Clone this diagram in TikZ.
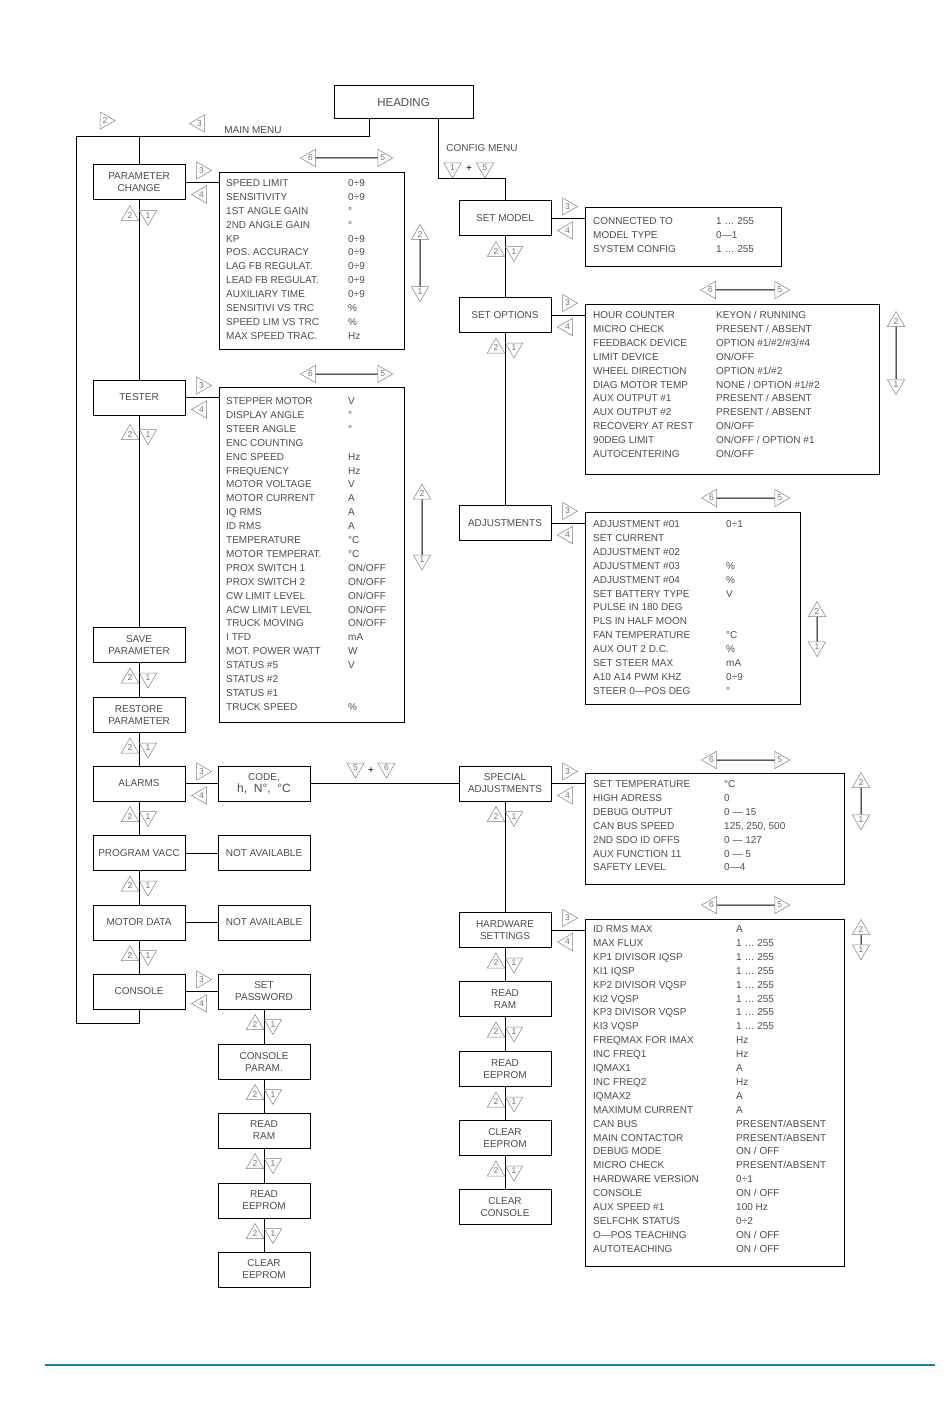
\documentclass[tikz,border=0pt]{standalone}
\usepackage{fontspec}
\setmainfont{Liberation Sans}
\usepackage{tikz}
\usetikzlibrary{shapes.geometric,positioning,calc}

\definecolor{rulecol}{RGB}{18,132,168}
\newcommand\rowfont{\fontsize{10}{12}\selectfont}
\newcommand\keyfont{\fontsize{8.5}{8.5}\selectfont}

\tikzset{
  menubox/.style={draw, line width=1pt, minimum width=92pt, minimum height=35pt,
    inner sep=1pt, align=center, font=\rowfont, text=black!70},
  listbox/.style={draw, line width=1pt, anchor=north west, inner sep=0pt},
  rowtext/.style={anchor=west, inner sep=0pt, text height=7pt, text depth=0pt,
    font=\rowfont, text=black!70},
  key/.style={regular polygon, regular polygon sides=3, draw=black!50, line width=0.5pt,
    minimum size=20pt, inner sep=0pt, font=\keyfont, text=black!55},
  keyup/.style={key},
  keydown/.style={key, shape border rotate=180},
  keyleft/.style={key, shape border rotate=90},
  keyright/.style={key, shape border rotate=-90},
  wire/.style={line width=1pt},
}

\begin{document}
\begin{tikzpicture}[x=1pt, y=-1pt]
  \useasboundingbox (0,0) rectangle (950,1420);
  % Heading
  \node[menubox, minimum width=139pt, minimum height=33pt,
    font=\fontsize{11.5}{13}\selectfont] (heading) at (403.5,102.5) {HEADING};

  % Main menu column
  \node[menubox] (param)   at (139,182.5) {PARAMETER\\CHANGE};
  \node[menubox] (tester)  at (139,397.5) {TESTER};
  \node[menubox] (save)    at (139,645)   {SAVE\\PARAMETER};
  \node[menubox] (restore) at (139,715)   {RESTORE\\PARAMETER};
  \node[menubox] (alarms)  at (139,783.5) {ALARMS};
  \node[menubox] (program) at (139,853)   {PROGRAM VACC};
  \node[menubox] (motor)   at (139,922.5) {MOTOR DATA};
  \node[menubox] (console) at (139,991.5) {CONSOLE};

  % Second column
  \node[menubox] (code)     at (264,783.5)  {CODE,\\{\fontsize{12}{14}\selectfont h,\ \ N°,\ \ °C}};
  \node[menubox] (naone)    at (264,853)    {NOT AVAILABLE};
  \node[menubox] (natwo)    at (264,922.5)  {NOT AVAILABLE};
  \node[menubox] (setpw)    at (264,991.5)  {SET\\PASSWORD};
  \node[menubox] (conparam) at (264,1061.5) {CONSOLE\\PARAM.};
  \node[menubox] (readram)  at (264,1130.5) {READ\\RAM};
  \node[menubox] (readee)   at (264,1200.5) {READ\\EEPROM};
  \node[menubox] (clearee)  at (264,1269.5) {CLEAR\\EEPROM};

  % Config menu column
  \node[menubox] (setmodel)   at (505,218.5) {SET MODEL};
  \node[menubox] (setoptions) at (505,315)   {SET OPTIONS};
  \node[menubox] (adjust)     at (505,523)   {ADJUSTMENTS};
  \node[menubox] (special)    at (505,783.5) {SPECIAL\\ADJUSTMENTS};
  \node[menubox] (hardware)   at (505,930)   {HARDWARE\\SETTINGS};
  \node[menubox] (ramtwo)     at (505,999)   {READ\\RAM};
  \node[menubox] (eetwo)      at (505,1069)  {READ\\EEPROM};
  \node[menubox] (cleartwo)   at (505,1138)  {CLEAR\\EEPROM};
  \node[menubox] (clearcons)  at (505,1207)  {CLEAR\\CONSOLE};

  % Menu wiring
  \coordinate (mainL) at (76,137);
  \coordinate (mainB) at (139,1023);
  \coordinate (cfgK) at (438,179);
  \draw[wire] ([xshift=-34.5pt]heading.south) |- (mainL) |- (mainB) -- (console.south);
  \draw[wire] (param.north) -- (param.north |- mainL);
  \draw[wire] ([xshift=34.5pt]heading.south) -- (cfgK) -| (setmodel.north);
  \foreach \a/\b in {param/tester, tester/save, save/restore, restore/alarms,
      alarms/program, program/motor, motor/console,
      setpw/conparam, conparam/readram, readram/readee, readee/clearee,
      setmodel/setoptions, setoptions/adjust, special/hardware, hardware/ramtwo,
      ramtwo/eetwo, eetwo/cleartwo, cleartwo/clearcons}
    \draw[wire] (\a.south) -- (\b.north);
  \draw[wire] (alarms.east) -- (code.west);
  \draw[wire] (program.east) -- (naone.west);
  \draw[wire] (motor.east) -- (natwo.west);
  \draw[wire] (console.east) -- (setpw.west);
  \draw[wire] (code.east) -- (special.west);

  % Key icons
  \node[keyright] (mm2) at (105,120.5) {2};
  \node[keyleft]  (mm3) at (199.5,123.5) {3};
  \node[font=\rowfont, text=black!70] (mmtext) at (253,130) {MAIN MENU};
  \node[font=\rowfont, text=black!70] (cfgtext) at (482,148) {CONFIG MENU};
  \node[keydown] (cfg1) at (452.5,168) {1};
  \node[font=\rowfont] (cfgplus) at (469,169) {+};
  \node[keydown] (cfg5) at (485,168) {5};
  \node[keydown] (sp5) at (355.5,768) {5};
  \node[font=\rowfont] (spplus) at (371,771) {+};
  \node[keydown] (sp6) at (386.5,768) {6};
  \foreach \b in {param, save, restore, alarms, program, motor,
      setpw, conparam, readram, readee,
      setmodel, setoptions, special, hardware, ramtwo, eetwo, cleartwo}{
    \node[keyup]   (\b-up)   at ([xshift=-9pt,yshift=-15pt]\b.south) {2};
    \node[keydown] (\b-down) at ([xshift=9pt,yshift=-15pt]\b.south) {1};
  }
  \node[keyup]   (tester-up)   at ([xshift=-9pt,yshift=-19pt]tester.south) {2};
  \node[keydown] (tester-down) at ([xshift=9pt,yshift=-19pt]tester.south) {1};
  \foreach \b in {param, tester, alarms, console,
      setmodel, setoptions, adjust, special, hardware}{
    \node[keyright] (\b-in)  at ([xshift=16pt,yshift=12pt]\b.east) {3};
    \node[keyleft]  (\b-out) at ([xshift=16pt,yshift=-12pt]\b.east) {4};
  }

  % Parameter change list
  \node[listbox, minimum width=185pt, minimum height=177pt] (parlist) at (219,172) {};
  \draw[wire] (param.east) -- (param.east -| parlist.west);
  \foreach \lab/\val [count=\i from 0] in {
    {SPEED LIMIT}/{0÷9}, {SENSITIVITY}/{0÷9}, {1ST ANGLE GAIN}/{°},
    {2ND ANGLE GAIN}/{°}, {KP}/{0÷9}, {POS. ACCURACY}/{0÷9},
    {LAG FB REGULAT.}/{0÷9}, {LEAD FB REGULAT.}/{0÷9}, {AUXILIARY TIME}/{0÷9},
    {SENSITIVI VS TRC}/{\%}, {SPEED LIM VS TRC}/{\%}, {MAX SPEED TRAC.}/{Hz}}{
    \node[rowtext] (par-l\i) at (226,{183+13.9*\i}) {\lab};
    \node[rowtext] (par-v\i) at (348,{183+13.9*\i}) {\val};
  }
  \node[keyleft]  (par6) at (310.5,158) {6};
  \node[keyright] (par5) at (382.75,158) {5};
  \draw[wire] (par6) -- (par5);
  \node[keyup]    (par2) at (420,234.5) {2};
  \node[keydown]  (par1) at (420,291.75) {1};
  \draw[wire] (par2) -- (par1);

  % Tester list
  \node[listbox, minimum width=185pt, minimum height=335pt] (testlist) at (219,387) {};
  \draw[wire] (tester.east) -- (tester.east -| testlist.west);
  \foreach \lab/\val [count=\i from 0] in {
    {STEPPER MOTOR}/{V}, {DISPLAY ANGLE}/{°}, {STEER ANGLE}/{°},
    {ENC COUNTING}/{}, {ENC SPEED}/{Hz}, {FREQUENCY}/{Hz},
    {MOTOR VOLTAGE}/{V}, {MOTOR CURRENT}/{A}, {IQ RMS}/{A}, {ID RMS}/{A},
    {TEMPERATURE}/{°C}, {MOTOR TEMPERAT.}/{°C}, {PROX SWITCH 1}/{ON/OFF},
    {PROX SWITCH 2}/{ON/OFF}, {CW LIMIT LEVEL}/{ON/OFF}, {ACW LIMIT LEVEL}/{ON/OFF},
    {TRUCK MOVING}/{ON/OFF}, {I TFD}/{mA}, {MOT. POWER WATT}/{W},
    {STATUS \#5}/{V}, {STATUS \#2}/{}, {STATUS \#1}/{}, {TRUCK SPEED}/{\%}}{
    \node[rowtext] (tst-l\i) at (226,{401+13.9*\i}) {\lab};
    \node[rowtext] (tst-v\i) at (348,{401+13.9*\i}) {\val};
  }
  \node[keyleft]  (tst6) at (310.5,374) {6};
  \node[keyright] (tst5) at (382.75,374) {5};
  \draw[wire] (tst6) -- (tst5);
  \node[keyup]    (tst2) at (422,494) {2};
  \node[keydown]  (tst1) at (422,560) {1};
  \draw[wire] (tst2) -- (tst1);

  % Set model list
  \node[listbox, minimum width=196pt, minimum height=59pt] (modellist) at (585,207) {};
  \draw[wire] (setmodel.east) -- (setmodel.east -| modellist.west);
  \foreach \lab/\val [count=\i from 0] in {
    {CONNECTED TO}/{1 … 255}, {MODEL TYPE}/{0—1}, {SYSTEM CONFIG}/{1 … 255}}{
    \node[rowtext] (mdl-l\i) at (593,{221+14*\i}) {\lab};
    \node[rowtext] (mdl-v\i) at (716,{221+14*\i}) {\val};
  }

  % Set options list
  \node[listbox, minimum width=294pt, minimum height=170pt] (optlist) at (585,304) {};
  \draw[wire] (setoptions.east) -- (setoptions.east -| optlist.west);
  \foreach \lab/\val [count=\i from 0] in {
    {HOUR COUNTER}/{KEYON / RUNNING}, {MICRO CHECK}/{PRESENT / ABSENT},
    {FEEDBACK DEVICE}/{OPTION \#1/\#2/\#3/\#4}, {LIMIT DEVICE}/{ON/OFF},
    {WHEEL DIRECTION}/{OPTION \#1/\#2}, {DIAG MOTOR TEMP}/{NONE / OPTION \#1/\#2},
    {AUX OUTPUT \#1}/{PRESENT / ABSENT}, {AUX OUTPUT \#2}/{PRESENT / ABSENT},
    {RECOVERY AT REST}/{ON/OFF}, {90DEG LIMIT}/{ON/OFF / OPTION \#1},
    {AUTOCENTERING}/{ON/OFF}}{
    \node[rowtext] (opt-l\i) at (593,{315+13.9*\i}) {\lab};
    \node[rowtext] (opt-v\i) at (716,{315+13.9*\i}) {\val};
  }
  \node[keyleft]  (opt6) at (710.5,290) {6};
  \node[keyright] (opt5) at (779.75,290) {5};
  \draw[wire] (opt6) -- (opt5);
  \node[keyup]    (opt2) at (896,321.5) {2};
  \node[keydown]  (opt1) at (896,384.75) {1};
  \draw[wire] (opt2) -- (opt1);

  % Adjustments list
  \node[listbox, minimum width=215pt, minimum height=192pt] (adjlist) at (585,512) {};
  \draw[wire] (adjust.east) -- (adjust.east -| adjlist.west);
  \foreach \lab/\val [count=\i from 0] in {
    {ADJUSTMENT \#01}/{0÷1}, {SET CURRENT}/{}, {ADJUSTMENT \#02}/{},
    {ADJUSTMENT \#03}/{\%}, {ADJUSTMENT \#04}/{\%}, {SET BATTERY TYPE}/{V},
    {PULSE IN 180 DEG}/{}, {PLS IN HALF MOON}/{}, {FAN TEMPERATURE}/{°C},
    {AUX OUT 2 D.C.}/{\%}, {SET STEER MAX}/{mA}, {A10 A14 PWM KHZ}/{0÷9},
    {STEER 0—POS DEG}/{°}}{
    \node[rowtext] (adj-l\i) at (593,{524+13.9*\i}) {\lab};
    \node[rowtext] (adj-v\i) at (726,{524+13.9*\i}) {\val};
  }
  \node[keyleft]  (adj6) at (711.5,498) {6};
  \node[keyright] (adj5) at (779.75,498) {5};
  \draw[wire] (adj6) -- (adj5);
  \node[keyup]    (adj2) at (817,611.5) {2};
  \node[keydown]  (adj1) at (817,646.75) {1};
  \draw[wire] (adj2) -- (adj1);

  % Special adjustments list
  \node[listbox, minimum width=259pt, minimum height=111pt] (speclist) at (585,773) {};
  \draw[wire] (special.east) -- (special.east -| speclist.west);
  \foreach \lab/\val [count=\i from 0] in {
    {SET TEMPERATURE}/{°C}, {HIGH ADRESS}/{0}, {DEBUG OUTPUT}/{0 — 15},
    {CAN BUS SPEED}/{125, 250, 500}, {2ND SDO ID OFFS}/{0 — 127},
    {AUX FUNCTION 11}/{0 — 5}, {SAFETY LEVEL}/{0—4}}{
    \node[rowtext] (spc-l\i) at (593,{784+13.9*\i}) {\lab};
    \node[rowtext] (spc-v\i) at (724,{784+13.9*\i}) {\val};
  }
  \node[keyleft]  (spc6) at (711.5,760) {6};
  \node[keyright] (spc5) at (779.75,760) {5};
  \draw[wire] (spc6) -- (spc5);
  \node[keyup]    (spc2) at (861,782.5) {2};
  \node[keydown]  (spc1) at (861,819.75) {1};
  \draw[wire] (spc2) -- (spc1);

  % Hardware settings list
  \node[listbox, minimum width=259pt, minimum height=347pt] (hwlist) at (585,919) {};
  \draw[wire] (hardware.east) -- (hardware.east -| hwlist.west);
  \foreach \lab/\val [count=\i from 0] in {
    {ID RMS MAX}/{A}, {MAX FLUX}/{1 … 255}, {KP1 DIVISOR IQSP}/{1 … 255},
    {KI1 IQSP}/{1 … 255}, {KP2 DIVISOR VQSP}/{1 … 255}, {KI2 VQSP}/{1 … 255},
    {KP3 DIVISOR VQSP}/{1 … 255}, {KI3 VQSP}/{1 … 255}, {FREQMAX FOR IMAX}/{Hz},
    {INC FREQ1}/{Hz}, {IQMAX1}/{A}, {INC FREQ2}/{Hz}, {IQMAX2}/{A},
    {MAXIMUM CURRENT}/{A}, {CAN BUS}/{PRESENT/ABSENT},
    {MAIN CONTACTOR}/{PRESENT/ABSENT}, {DEBUG MODE}/{ON / OFF},
    {MICRO CHECK}/{PRESENT/ABSENT}, {HARDWARE VERSION}/{0÷1},
    {CONSOLE}/{ON / OFF}, {AUX SPEED \#1}/{100 Hz}, {SELFCHK STATUS}/{0÷2},
    {O—POS TEACHING}/{ON / OFF}, {AUTOTEACHING}/{ON / OFF}}{
    \node[rowtext] (hw-l\i) at (593,{929+13.9*\i}) {\lab};
    \node[rowtext] (hw-v\i) at (736,{929+13.9*\i}) {\val};
  }
  \node[keyleft]  (hw6) at (711.5,905) {6};
  \node[keyright] (hw5) at (779.75,905) {5};
  \draw[wire] (hw6) -- (hw5);
  \node[keyup]    (hw2) at (861,929.5) {2};
  \node[keydown]  (hw1) at (861,949.75) {1};
  \draw[wire] (hw2) -- (hw1);

  % Footer rule
  \draw[rulecol, line width=2pt] (45,1365) -- (935,1365);
\end{tikzpicture}
\end{document}
